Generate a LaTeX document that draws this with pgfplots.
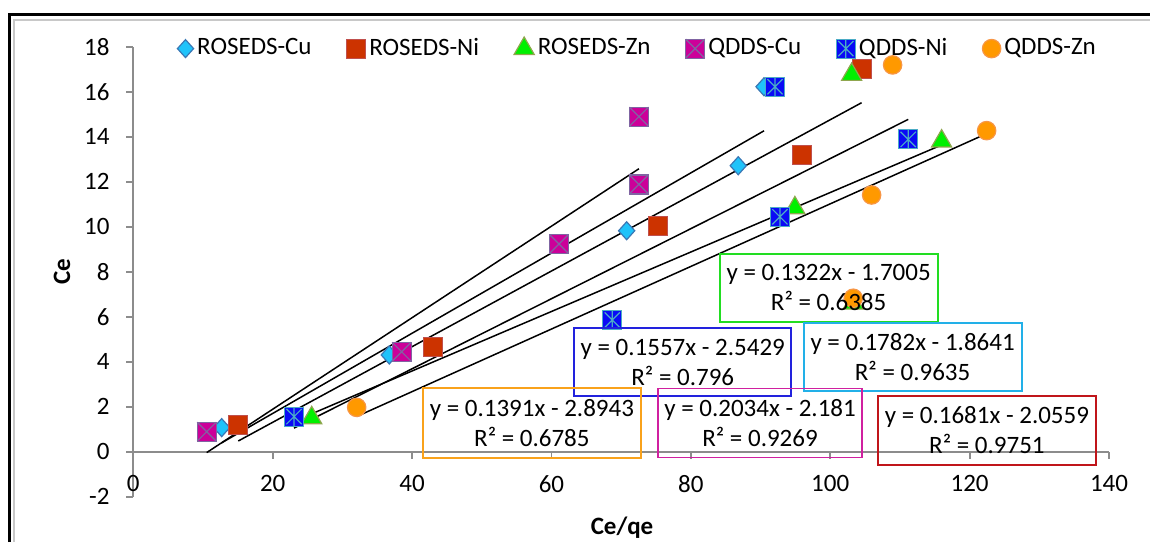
\documentclass[border=0pt]{standalone}
\usepackage{pgfplots}
\pgfplotsset{compat=1.18}
\usepackage{fontspec}
\setmainfont{Carlito}

\definecolor{axisgray}{HTML}{8C8C8C}
\definecolor{framegray}{HTML}{C8C8C8}
\definecolor{cuFill}{HTML}{1FC3FA}
\definecolor{cuEdge}{HTML}{3A78B5}
\definecolor{niFill}{HTML}{CC3300}
\definecolor{niEdge}{HTML}{C0504D}
\definecolor{znFill}{HTML}{00F000}
\definecolor{znEdge}{HTML}{8FA64E}
\definecolor{qcuFill}{HTML}{CC0099}
\definecolor{qcuEdge}{HTML}{8064A2}
\definecolor{qniFill}{HTML}{0A0AF5}
\definecolor{qniEdge}{HTML}{4BACC6}
\definecolor{qznFill}{HTML}{FF9900}
\definecolor{qznEdge}{HTML}{F79646}
\definecolor{bxGreen}{HTML}{22DD22}
\definecolor{bxBlue}{HTML}{2222DD}
\definecolor{bxCyan}{HTML}{22B0E8}
\definecolor{bxOrange}{HTML}{F9A21B}
\definecolor{bxMagenta}{HTML}{D020A0}
\definecolor{bxRed}{HTML}{C0151A}

\pgfdeclareplotmark{dia}{%
  \pgfpathmoveto{\pgfqpoint{0pt}{\pgfplotmarksize}}%
  \pgfpathlineto{\pgfqpoint{0.9\pgfplotmarksize}{0pt}}%
  \pgfpathlineto{\pgfqpoint{0pt}{-\pgfplotmarksize}}%
  \pgfpathlineto{\pgfqpoint{-0.9\pgfplotmarksize}{0pt}}%
  \pgfpathclose\pgfusepathqfillstroke}
\pgfdeclareplotmark{sqx}{%
  \pgfpathrectangle{\pgfqpoint{-\pgfplotmarksize}{-\pgfplotmarksize}}{\pgfqpoint{2\pgfplotmarksize}{2\pgfplotmarksize}}%
  \pgfusepathqfillstroke
  \pgfpathmoveto{\pgfqpoint{-\pgfplotmarksize}{-\pgfplotmarksize}}\pgfpathlineto{\pgfqpoint{\pgfplotmarksize}{\pgfplotmarksize}}%
  \pgfpathmoveto{\pgfqpoint{-\pgfplotmarksize}{\pgfplotmarksize}}\pgfpathlineto{\pgfqpoint{\pgfplotmarksize}{-\pgfplotmarksize}}%
  \pgfusepathqstroke}
\pgfdeclareplotmark{sqstar}{%
  \pgfpathrectangle{\pgfqpoint{-\pgfplotmarksize}{-\pgfplotmarksize}}{\pgfqpoint{2\pgfplotmarksize}{2\pgfplotmarksize}}%
  \pgfusepathqfillstroke
  \pgfpathmoveto{\pgfqpoint{-0.8\pgfplotmarksize}{-0.8\pgfplotmarksize}}\pgfpathlineto{\pgfqpoint{0.8\pgfplotmarksize}{0.8\pgfplotmarksize}}%
  \pgfpathmoveto{\pgfqpoint{-0.8\pgfplotmarksize}{0.8\pgfplotmarksize}}\pgfpathlineto{\pgfqpoint{0.8\pgfplotmarksize}{-0.8\pgfplotmarksize}}%
  \pgfpathmoveto{\pgfqpoint{0pt}{-\pgfplotmarksize}}\pgfpathlineto{\pgfqpoint{0pt}{\pgfplotmarksize}}%
  \pgfusepathqstroke}

\begin{document}
\fontsize{12.5}{15}\selectfont
\begin{tikzpicture}
\path[use as bounding box] (0,0) rectangle (575pt,271pt);
% outer chart frame
\draw[black, line width=1.15pt] (4.75pt,0) -- (4.75pt,263.75pt) -- (575pt,263.75pt);
\draw[framegray, line width=1pt] (7pt,0) -- (7pt,261.15pt) -- (575pt,261.15pt);
\begin{axis}[
  at={(66.65pt,22.65pt)}, anchor=south west,
  scale only axis, width=487.85pt, height=225pt,
  xmin=0, xmax=140, ymin=-2, ymax=18,
  axis x line*=middle, axis y line*=left,
  axis line style={draw=axisgray, line width=0.9pt},
  xtick={0,20,40,60,80,100,120,140},
  xticklabels={0,20,40,60,80,100,120,140},
  ytick={-2,0,2,4,6,8,10,12,14,16,18},
  yticklabels={-2,0,2,4,6,8,10,12,14,16,18},
  tick style={draw=axisgray, line width=0.9pt},
  tick align=outside, major tick length=3.5pt,
  hide obscured x ticks=false, hide obscured y ticks=false,
  x tick label style={yshift=-4pt},
  y tick label style={xshift=-4pt},
  every axis x label/.style={at={(axis description cs:0.5009,-0.0684)}, anchor=center},
  every axis y label/.style={at={(axis description cs:-0.0731,0.5)}, anchor=center, rotate=90},
  xlabel={\textbf{Ce/qe}}, ylabel={\textbf{Ce}},
  legend columns=6,
  legend style={draw=none, fill=none, at={(0.0448,0.997)}, anchor=west, inner sep=0pt,
    nodes={inner sep=0pt}, cells={anchor=west},
    /tikz/every odd column/.append style={column sep=1.8pt},
    /tikz/every even column/.append style={column sep=17.5pt}},
  legend image code/.code={\draw[#1] plot coordinates {(0pt,0pt)};},
  clip=false,
]
\addplot[only marks, mark=dia, mark size=4.5pt, mark options={fill=cuFill, draw=cuEdge, line width=0.6pt}]
  coordinates {(12.68,1.07) (36.73,4.30) (70.79,9.82) (86.80,12.71) (90.5,16.22)};
\addlegendentry{ROSEDS-Cu}
\addplot[only marks, mark=square*, mark size=4.75pt, mark options={fill=niFill, draw=niEdge, line width=0.6pt}]
  coordinates {(15.06,1.19) (43.04,4.67) (75.32,10.04) (95.90,13.19) (104.5,17.0)};
\addlegendentry{ROSEDS-Ni}
\addplot[only marks, mark=triangle*, mark size=5.8pt, mark options={fill=znFill, draw=znEdge, line width=0.6pt}]
  coordinates {(25.6,1.50) (94.93,10.83) (115.98,13.80) (103.07,16.76) (103.3,6.60)};
\addlegendentry{ROSEDS-Zn}
\addplot[only marks, mark=sqx, mark size=4.75pt, mark options={fill=qcuFill, draw=qcuEdge, line width=0.6pt}]
  coordinates {(10.53,0.89) (38.51,4.44) (61.08,9.23) (72.55,11.88) (72.55,14.89)};
\addlegendentry{QDDS-Cu}
\addplot[only marks, mark=sqstar, mark size=4.75pt, mark options={fill=qniFill, draw=qniEdge, line width=0.6pt}]
  coordinates {(23.06,1.56) (68.72,5.85) (92.78,10.44) (111.19,13.88) (92.07,16.22)};
\addlegendentry{QDDS-Ni}
\addplot[only marks, mark=*, mark size=4.6pt, mark options={fill=qznFill, draw=qznEdge, line width=0.6pt}]
  coordinates {(32.05,1.97) (103.3,6.82) (105.94,11.41) (108.95,17.19) (122.44,14.27)};
\addlegendentry{QDDS-Zn}
% linear trendlines
\addplot[black, line width=0.75pt, forget plot] coordinates {(12.68,0.3955) (90.5,14.263)};
\addplot[black, line width=0.75pt, forget plot] coordinates {(15.06,0.4757) (104.5,15.5106)};
\addplot[black, line width=0.75pt, forget plot] coordinates {(25.6,1.6838) (115.98,13.6321)};
\addplot[black, line width=0.75pt, forget plot] coordinates {(10.53,-0.0392) (72.55,12.5757)};
\addplot[black, line width=0.75pt, forget plot] coordinates {(23.06,1.0475) (111.19,14.7694)};
\addplot[black, line width=0.75pt, forget plot] coordinates {(32.05,1.5639) (122.44,14.1371)};
% anchor points for trendline labels
\coordinate (bG) at (axis cs:99.77,7.28);
\coordinate (bB) at (axis cs:78.84,3.98);
\coordinate (bC) at (axis cs:111.82,4.21);
\coordinate (bO) at (axis cs:57.19,1.26);
\coordinate (bM) at (axis cs:89.93,1.28);
\coordinate (bR) at (axis cs:122.48,0.95);
\end{axis}
\begin{scope}[every node/.style={line width=0.9pt, align=center, inner sep=0pt}]
\node[draw=bxGreen, minimum width=109pt, minimum height=33.7pt] at (bG) {y = 0.1322x - 1.7005\\R² = 0.6385};
\node[draw=bxBlue, minimum width=108.5pt, minimum height=33.8pt] at (bB) {y = 0.1557x - 2.5429\\R² = 0.796};
\node[draw=bxCyan, minimum width=109pt, minimum height=34.2pt] at (bC) {y = 0.1782x - 1.8641\\R² = 0.9635};
\node[draw=bxOrange, minimum width=108.9pt, minimum height=35pt] at (bO) {y = 0.1391x - 2.8943\\R² = 0.6785};
\node[draw=bxMagenta, minimum width=102.3pt, minimum height=34.5pt] at (bM) {y = 0.2034x - 2.181\\R² = 0.9269};
\node[draw=bxRed, minimum width=109pt, minimum height=34.6pt] at (bR) {y = 0.1681x - 2.0559\\R² = 0.9751};
\end{scope}
\end{tikzpicture}
\end{document}
